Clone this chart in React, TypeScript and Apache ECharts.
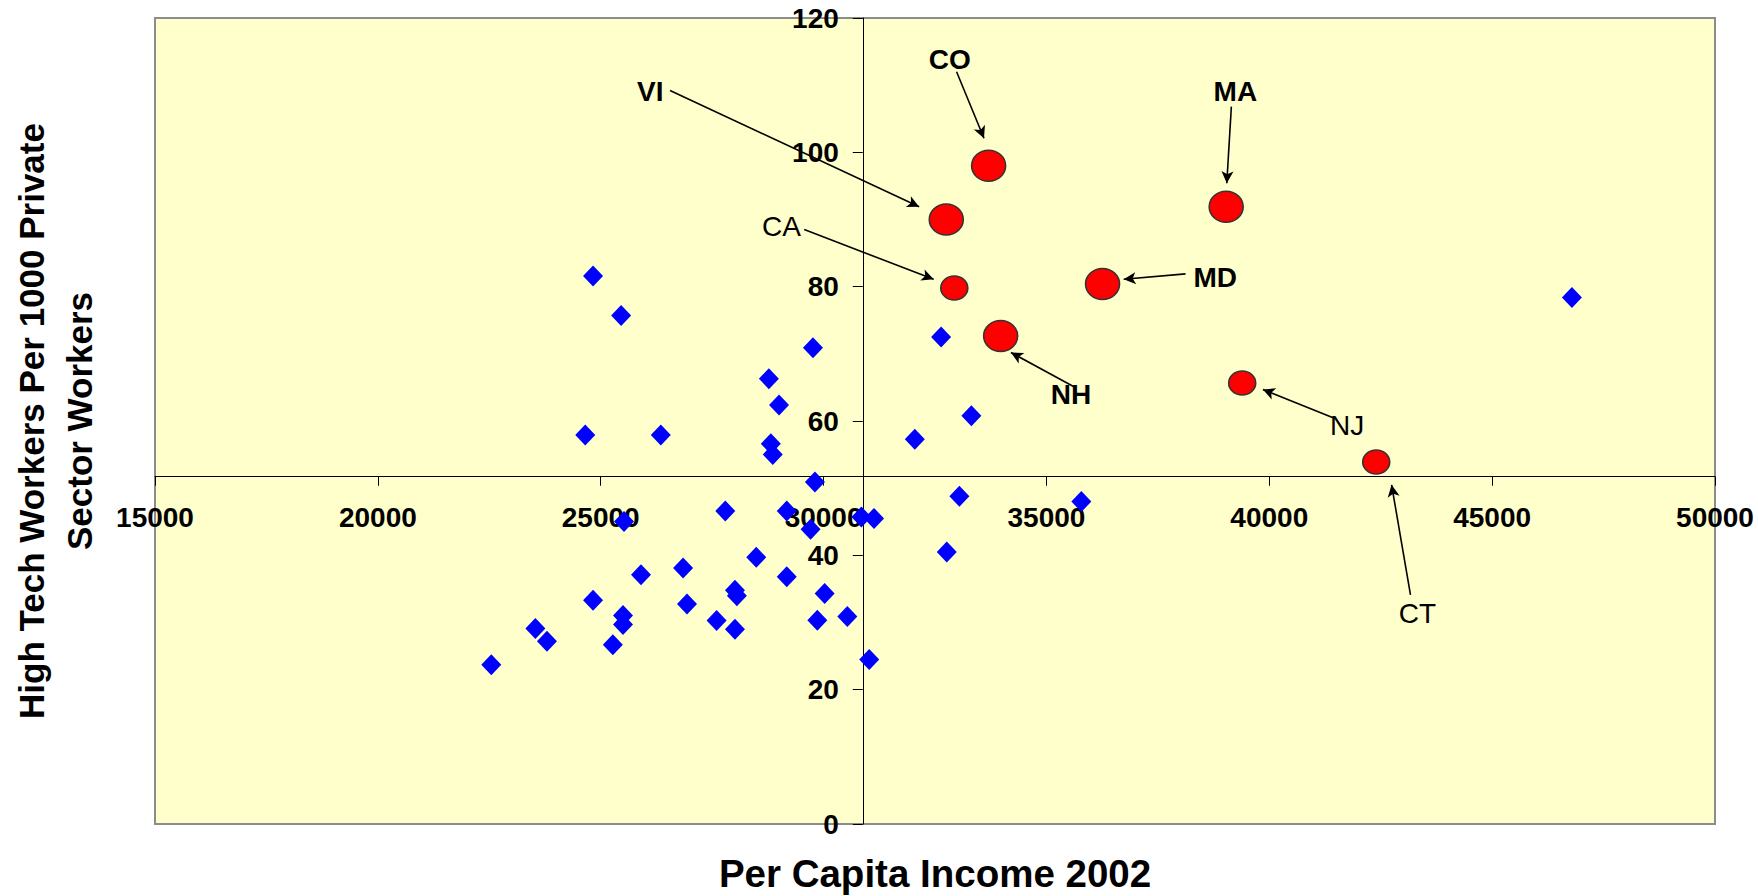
import React, { useEffect, useRef } from "react";
import * as echarts from "echarts";

// ---- data ----
const xTitle = "Per Capita Income 2002";
const yTitle = "High Tech Workers Per 1000 Private\nSector Workers";

const xMin = 15000;
const xMax = 50000;
const xStep = 5000;
const yMin = 0;
const yMax = 120;
const yStep = 20;

// where the axes cross (US averages)
const xCross = 30880;
const yCross = 51.7;

// [per capita income, high tech workers per 1000]
const otherStates: [number, number][] = [
  [24828, 81.6], [25458, 75.7], [29762, 70.9], [28773, 66.3], [29001, 62.4],
  [24653, 57.9], [26348, 57.9], [28817, 56.6], [28860, 55.0], [29806, 50.9],
  [27795, 46.6], [29174, 46.6], [25523, 45.05], [29708, 43.9], [30849, 45.7],
  [31132, 45.5], [28490, 39.7], [26848, 38.1], [25904, 37.1], [29174, 36.8],
  [28012, 34.8], [28055, 34.0], [30024, 34.3], [24828, 33.3], [26936, 32.75],
  [25500, 31.06], [25500, 29.7], [27600, 30.3], [29860, 30.35], [30533, 30.9],
  [28012, 29.0], [23534, 29.1], [23794, 27.2], [25272, 26.7], [22545, 23.7],
  [31024, 24.5], [46790, 78.4], [32637, 72.5], [33316, 60.8], [32047, 57.3],
  [33047, 48.8], [35783, 48.0], [32764, 40.5],
];

const leaderNames = ["VI", "CO", "MA", "MD", "NH"];
const leaderValues: [number, number][] = [
  [32753, 90.0], [33703, 98.0], [39033, 91.9], [36259, 80.4], [33973, 72.65],
];

const otherLeaderNames = ["CA", "NJ", "CT"];
const otherLeaderValues: [number, number][] = [
  [32933, 79.8], [39392, 65.65], [42399, 53.9],
];

// annotation texts, text anchor, arrow start, arrow end (data units)
const noteNames = ["VI", "CO", "MA", "MD", "NH", "CA", "NJ", "CT"];
const noteText: [number, number][] = [
  [26112, 109.1], [32829, 113.8], [39239, 109.1], [38788, 81.3],
  [35552, 63.9], [29055, 89.0], [41744, 59.4], [43323, 31.4],
];
const arrowFrom: [number, number][] = [
  [26555, 109.2], [32984, 112.0], [39149, 106.8], [38120, 81.9],
  [35617, 65.1], [29566, 88.5], [41460, 60.4], [43168, 34.1],
];
const arrowTo: [number, number][] = [
  [32145, 91.9], [33599, 102.1], [39046, 95.4], [36734, 81.1],
  [34204, 70.2], [32470, 81.1], [39856, 64.7], [42744, 50.5],
];

const FONT = "'Liberation Sans', Arial, sans-serif";
const ellipse = "path://M0,50a50,50 0 1,0 100,0a50,50 0 1,0 -100,0z";

export default function App() {
  const ref = useRef<HTMLDivElement>(null);

  useEffect(() => {
    if (!ref.current) return;
    const chart = echarts.init(ref.current, undefined, { renderer: "svg" });

    const gridLeft = 155;
    const gridTop = 18;
    const gridRight = 43;
    const gridBottom = 72;

    const option: any = {
      animation: false,
      backgroundColor: "#ffffff",
      grid: {
        left: gridLeft,
        top: gridTop,
        right: gridRight,
        bottom: gridBottom,
        show: true,
        backgroundColor: "#FFFFCC",
        borderColor: "#8c8c8c",
        borderWidth: 2,
      },
      xAxis: {
        type: "value",
        min: xMin,
        max: xMax,
        interval: xStep,
        position: "bottom",
        offset: 0,
        axisLine: { show: true, onZero: false, lineStyle: { color: "#000", width: 1 } },
        axisTick: { show: true, inside: false, length: 9, lineStyle: { color: "#000", width: 1 } },
        axisLabel: {
          show: true,
          margin: 27,
          fontFamily: FONT,
          fontWeight: "bold",
          fontSize: 28,
          color: "#000",
          formatter: (v: number) => String(v),
        },
        splitLine: { show: false },
      },
      yAxis: {
        type: "value",
        min: yMin,
        max: yMax,
        interval: yStep,
        position: "left",
        offset: 0,
        axisLine: { show: true, onZero: false, lineStyle: { color: "#000", width: 1 } },
        axisTick: { show: true, inside: false, length: 10, lineStyle: { color: "#000", width: 1 } },
        axisLabel: {
          show: true,
          margin: 24,
          fontFamily: FONT,
          fontWeight: "bold",
          fontSize: 28,
          color: "#000",
          formatter: (v: number) => String(v),
        },
        splitLine: { show: false },
      },
      graphic: [
        {
          type: "text",
          x: 935,
          y: 873,
          silent: true,
          style: {
            text: xTitle,
            fontFamily: FONT,
            fontWeight: "bold",
            fontSize: 38.5,
            fill: "#000",
            align: "center",
            verticalAlign: "middle",
          },
        },
        {
          type: "text",
          x: 55,
          y: 421,
          rotation: Math.PI / 2,
          silent: true,
          style: {
            text: yTitle,
            fontFamily: FONT,
            fontWeight: "bold",
            fontSize: 35,
            lineHeight: 48,
            fill: "#000",
            align: "center",
            verticalAlign: "middle",
          },
        },
      ],
      series: [
        {
          name: "States",
          type: "scatter",
          symbol: "diamond",
          symbolSize: [20, 21],
          itemStyle: { color: "#0000FF", opacity: 1 },
          data: otherStates,
          z: 3,
        },
        {
          name: "Leaders",
          type: "scatter",
          symbol: ellipse,
          symbolSize: [34, 31],
          itemStyle: { color: "#FF0000", opacity: 1, borderColor: "#333333", borderWidth: 1.5 },
          data: leaderNames.map((n, i) => ({ name: n, value: leaderValues[i] })),
          z: 4,
        },
        {
          name: "Others",
          type: "scatter",
          symbol: ellipse,
          symbolSize: [27, 24],
          itemStyle: { color: "#FF0000", opacity: 1, borderColor: "#333333", borderWidth: 1.5 },
          data: otherLeaderNames.map((n, i) => ({ name: n, value: otherLeaderValues[i] })),
          z: 4,
        },
        {
          name: "Notes",
          type: "scatter",
          symbolSize: 1,
          itemStyle: { color: "rgba(0,0,0,0)", opacity: 1 },
          silent: true,
          z: 5,
          label: {
            show: true,
            position: "inside",
            formatter: "{b}",
            fontFamily: FONT,
            fontSize: 28,
            color: "#000000",
          },
          data: noteNames.map((n, i) => ({
            name: n,
            value: noteText[i],
            label: { fontWeight: otherLeaderNames.includes(n) ? "normal" : "bold" },
          })),
          markLine: {
            silent: true,
            symbol: ["none", "arrow"],
            symbolSize: [9, 12],
            label: { show: false },
            lineStyle: { color: "#000", width: 1.6, type: "solid", opacity: 1 },
            data: noteNames.map((_, i) => [
              { coord: arrowFrom[i] },
              { coord: arrowTo[i] },
            ]),
          },
        },
      ],
    };

    chart.setOption(option);
    const p = chart.convertToPixel({ gridIndex: 0 } as any, [xCross, yCross]) as number[];
    const plotBottom = 896 - gridBottom;
    chart.setOption({
      xAxis: { offset: -(plotBottom - p[1]) },
      yAxis: { offset: -(p[0] - gridLeft) },
    });

    return () => chart.dispose();
  }, []);

  return (
    <div
      ref={ref}
      style={{ position: "fixed", left: 0, top: 0, width: 1758, height: 896 }}
    />
  );
}
